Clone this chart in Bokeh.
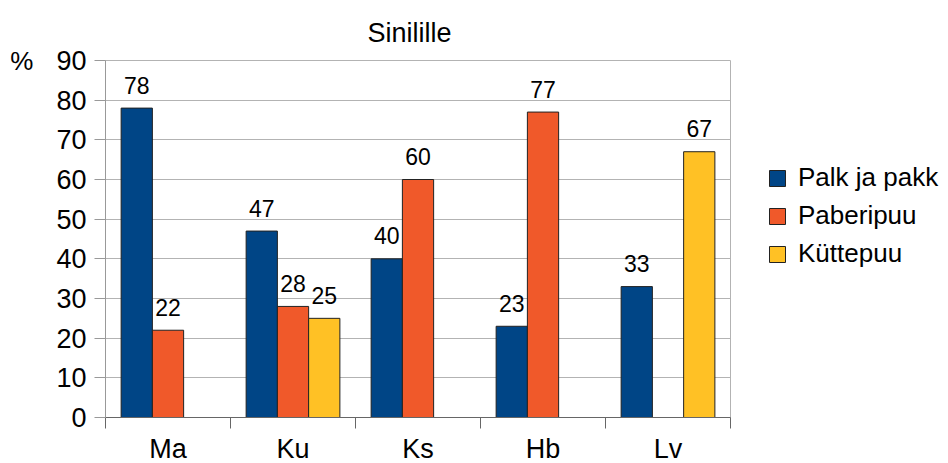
from bokeh.plotting import figure
from bokeh.models import (ColumnDataSource, FixedTicker, Legend, LegendItem,
                          Range1d)
from bokeh.core.properties import value
from bokeh.embed import file_html
from bokeh.resources import INLINE

# ---- data ----
categories = ["Ma", "Ku", "Ks", "Hb", "Lv"]
palk_ja_pakk = [78, 47, 40, 23, 33]
paberipuu = [22, 28, 60, 77, 0]
kyttepuu = [0, 25, 0, 0, 67]
series_names = ["Palk ja pakk", "Paberipuu", "Küttepuu"]
y_ticks = [0, 10, 20, 30, 40, 50, 60, 70, 80, 90]
title_text = "Sinilille"
y_unit = "%"

# ---- style ----
FONT = "Liberation Sans"
colors = ["#004586", "#f0592a", "#ffc125"]
offsets = [-0.25, 0.0, 0.25]
bar_w = 0.25

p = figure(frame_width=625, frame_height=357, x_range=Range1d(0, len(categories)),
           y_range=Range1d(0, 90), output_backend="svg", toolbar_location=None,
           min_border_left=105, min_border_right=218, min_border_top=60,
           min_border_bottom=46)
p.background_fill_color = "white"
p.border_fill_color = "white"
p.outline_line_color = "#b3b3b3"

p.title.text = title_text
p.title.align = "left"
p.title.offset = 262
p.title.vertical_align = "top"
p.title.standoff = 22
p.title.text_font = FONT
p.title.text_font_size = "27px"
p.title.text_font_style = "normal"
p.title.text_color = "black"

renderers = []
for vals, col, off in zip([palk_ja_pakk, paberipuu, kyttepuu], colors, offsets):
    xs, tops, labs = [], [], []
    for i, v in enumerate(vals):
        if v > 0:
            xs.append(i + 0.5 + off)
            tops.append(v)
            labs.append(str(v))
    src = ColumnDataSource(dict(x=xs, top=tops, label=labs))
    r = p.vbar(x="x", top="top", width=bar_w, bottom=0, source=src,
               fill_color=col, line_color="#222222", line_width=1)
    renderers.append(r)
    p.text(x="x", y="top", text="label", source=src, y_offset=-23,
           text_align="center", text_baseline="alphabetic",
           text_font=value(FONT), text_font_size="23px", text_color="black")

# y axis
p.yaxis.ticker = FixedTicker(ticks=y_ticks)
p.yaxis.major_tick_out = 11
p.yaxis.major_tick_in = 0
p.yaxis.minor_tick_line_color = None
p.yaxis.axis_line_color = "#999999"
p.yaxis.major_tick_line_color = "#999999"
p.yaxis.major_label_text_font = FONT
p.yaxis.major_label_text_font_size = "27px"
p.yaxis.major_label_text_color = "black"
p.yaxis.major_label_standoff = 8
p.yaxis.axis_label = y_unit
p.yaxis.axis_label_text_font = FONT
p.yaxis.axis_label_text_font_size = "26px"
p.yaxis.axis_label_text_font_style = "normal"
p.yaxis.axis_label_text_color = "black"
p.yaxis.axis_label_standoff = 20
try:
    p.yaxis.axis_label_orientation = "horizontal"
    p.yaxis.axis_label_align = "end"
except Exception:
    pass

# x axis: labels at centres, ticks at category boundaries
centers = [i + 0.5 for i in range(len(categories))]
bounds = [float(i) for i in range(len(categories) + 1)]
p.xaxis.ticker = FixedTicker(ticks=centers, minor_ticks=bounds)
p.xaxis.major_label_overrides = {c: cat for c, cat in zip(centers, categories)}
p.xaxis.major_tick_line_color = None
p.xaxis.major_tick_out = 0
p.xaxis.major_tick_in = 0
p.xaxis.minor_tick_out = 11
p.xaxis.minor_tick_in = 0
p.xaxis.minor_tick_line_color = "#666666"
p.xaxis.axis_line_color = "#666666"
p.xaxis.major_label_text_font = FONT
p.xaxis.major_label_text_font_size = "27px"
p.xaxis.major_label_text_color = "black"
p.xaxis.major_label_standoff = 5

p.xgrid.grid_line_color = None
p.ygrid.ticker = FixedTicker(ticks=y_ticks)
p.ygrid.grid_line_color = "#b3b3b3"

legend = Legend(items=[LegendItem(label=n, renderers=[r])
                       for n, r in zip(series_names, renderers)],
                location=(37, 148), border_line_color=None,
                background_fill_alpha=0, glyph_width=20, glyph_height=20,
                label_text_font=FONT, label_text_font_size="26px",
                label_text_color="black",
                label_standoff=11, label_height=30, spacing=7,
                padding=0, margin=0)
p.add_layout(legend, "right")

open("out.html", "w").write(file_html(p, INLINE))
